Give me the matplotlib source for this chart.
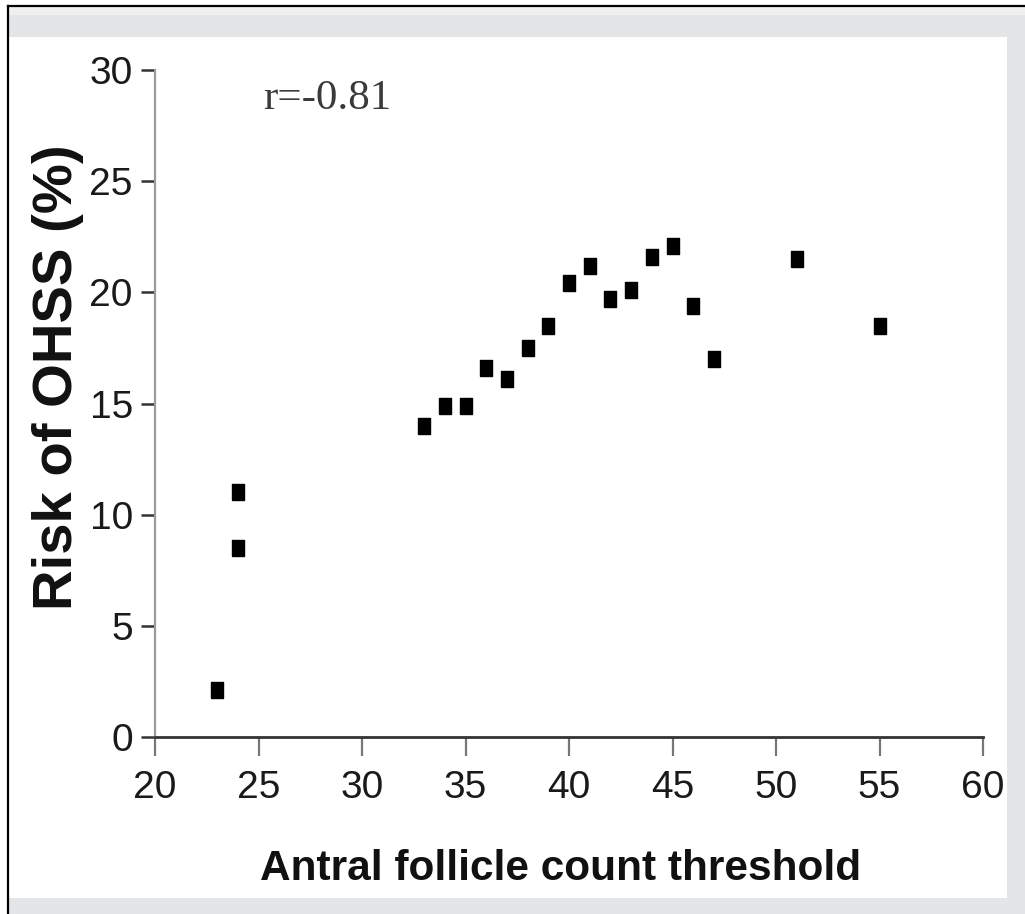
import matplotlib
matplotlib.use('Agg')
import matplotlib.pyplot as plt
from matplotlib.patches import Rectangle
from matplotlib.lines import Line2D

# antral follicle count threshold vs risk of OHSS
afc_threshold = [23, 24, 24, 33, 34, 35, 36, 37, 38, 39, 40, 41, 42, 43, 44, 45, 46, 47, 51, 55]
ohss_risk = [2.1, 11.0, 8.5, 14.0, 14.9, 14.9, 16.6, 16.1, 17.5, 18.5, 20.4, 21.2,
             19.7, 20.1, 21.6, 22.1, 19.4, 17.0, 21.5, 18.5]
x_ticks = [20, 25, 30, 35, 40, 45, 50, 55, 60]
y_ticks = [0, 5, 10, 15, 20, 25, 30]
r_text = 'r=-0.81'

sans = ['Liberation Sans', 'DejaVu Sans']

W, H = 1025, 914
fig = plt.figure(figsize=(W / 100, H / 100), dpi=100, facecolor='white')

# frame around the picture
fig.patches.append(Rectangle((8 / W, 0), 1, 1 - 5 / H, transform=fig.transFigure,
                             facecolor='#e4e5e6', edgecolor='none', zorder=-3))
fig.patches.append(Rectangle((8 / W, 1 - 15 / H), 1, 8 / H, transform=fig.transFigure,
                             facecolor='#f0f0f0', edgecolor='none', zorder=-3))
fig.patches.append(Rectangle((9 / W, 1 - 898 / H), (1007 - 9) / W, (898 - 37) / H,
                             transform=fig.transFigure, facecolor='white',
                             edgecolor='none', zorder=-2))
fig.lines.append(Line2D([7.5 / W, 1], [1 - 5.5 / H, 1 - 5.5 / H], transform=fig.transFigure,
                        color='black', lw=1.6))
fig.lines.append(Line2D([7.5 / W, 7.5 / W], [0, 1 - 5.5 / H], transform=fig.transFigure,
                        color='black', lw=1.6))

ax = fig.add_axes([155 / W, 1 - 737 / H, (983 - 155) / W, (737 - 70) / H])
ax.patch.set_alpha(0)

marker = [(-3, -4), (3, -4), (3, 4), (-3, 4), (-3, -4)]
ax.plot(afc_threshold, ohss_risk, linestyle='none', marker=marker, markersize=11.5,
        color='black', clip_on=False, zorder=3)

ax.set_xlim(20, 60)
ax.set_ylim(0, 30)
ax.set_xticks(x_ticks)
ax.set_yticks(y_ticks)

ax.spines['top'].set_visible(False)
ax.spines['right'].set_visible(False)
ax.spines['left'].set_color('#9a9a9a')
ax.spines['left'].set_linewidth(1.6)
ax.spines['bottom'].set_color('#333333')
ax.spines['bottom'].set_linewidth(2.0)

ax.tick_params(axis='x', direction='out', length=14, width=1.6, color='#777777',
               pad=10, labelsize=28, labelcolor='#1a1a1a')
ax.tick_params(axis='y', direction='out', length=10, width=1.8, color='#333333',
               pad=6, labelsize=28, labelcolor='#1a1a1a')
for lab in ax.get_xticklabels() + ax.get_yticklabels():
    lab.set_family(sans)

ax.set_xlabel('Antral follicle count threshold', family=sans,
              fontsize=30.5, fontweight='bold', color='#111111')
ax.xaxis.set_label_coords(0.49, -0.168)
ax.set_ylabel('Risk of OHSS (%)', family=sans,
              fontsize=40.5, fontweight='bold', color='#111111')
ax.yaxis.set_label_coords((84 - 155) / 828, 0.54)

ax.text(25.2, 28.25, r_text, family=['Liberation Serif', 'DejaVu Serif'],
        fontsize=31, color='#3a3a3a', ha='left', va='baseline')

fig.savefig('out.png', dpi=100, facecolor=fig.get_facecolor())
